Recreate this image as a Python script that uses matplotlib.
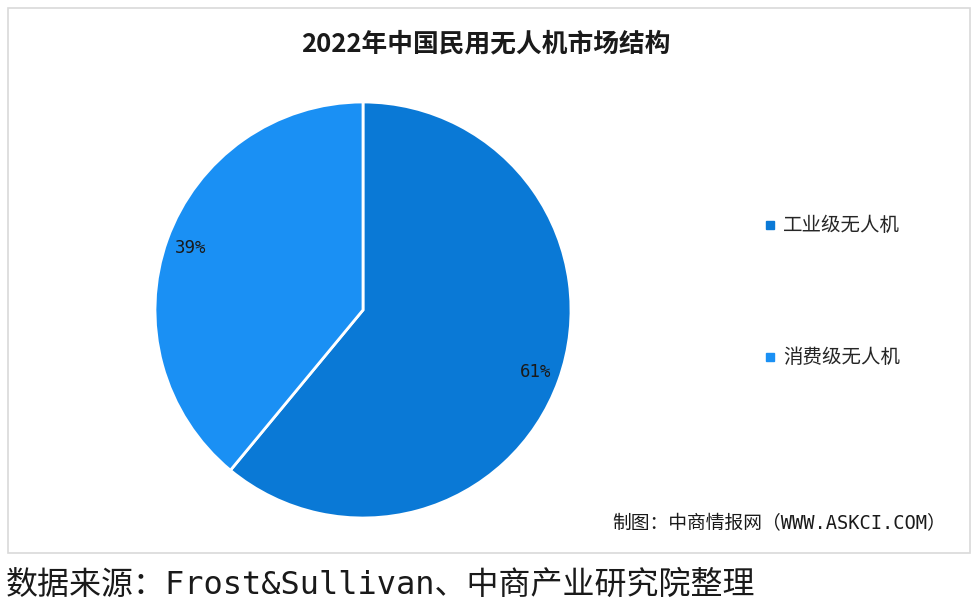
import matplotlib
matplotlib.use("Agg")
import matplotlib.pyplot as plt
from matplotlib.patches import Rectangle

plt.rcParams['font.family'] = ['Noto Sans CJK SC', 'DejaVu Sans']

# data
labels = ['工业级无人机', '消费级无人机']
shares = [61, 39]
colors = ['#0a79d6', '#1a90f4']

title = '2022年中国民用无人机市场结构'
credit = '制图：中商情报网（WWW.ASKCI.COM）'
source = '数据来源：Frost&Sullivan、中商产业研究院整理'

W, H = 978, 610
fig = plt.figure(figsize=(W / 100, H / 100), dpi=100)

# outer frame of the chart
fig.patches.append(Rectangle((8 / W, 1 - 553 / H), 962 / W, 545 / H,
                             transform=fig.transFigure, fill=False,
                             edgecolor='#d9d9d9', linewidth=1.2))

# pie: centre (363, 310), radius 208 px
r = 208
ax = fig.add_axes([(363 - r) / W, 1 - (310 + r) / H, 2 * r / W, 2 * r / H])
wedges, texts, autotexts = ax.pie(
    shares, colors=colors, startangle=90, counterclock=False,
    autopct='%d%%', pctdistance=0.88,
    wedgeprops=dict(edgecolor='white', linewidth=2))
for t in autotexts:
    t.set_fontsize(12.5)
    t.set_color('#1a1a1a')
    t.set_family(['DejaVu Sans Mono'])
ax.set_xlim(-1, 1)
ax.set_ylim(-1, 1)
ax.set_aspect('equal')

fig.text(486 / W, 1 - 44 / H, title, ha='center', va='center',
         fontsize=18.5, fontweight='bold', color='#1a1a1a')

# legend
leg_y = [225, 357]
for lab, col, y in zip(labels, colors, leg_y):
    fig.patches.append(Rectangle((766 / W, 1 - (y + 4) / H), 8 / W, 8 / H,
                                 transform=fig.transFigure, color=col))
    fig.text(783 / W, 1 - y / H, lab, ha='left', va='center',
             fontsize=14, color='#262626')

fig.text(612 / W, 1 - 524 / H, credit, ha='left', va='center',
         fontsize=13.5, color='#1a1a1a',
         family=['DejaVu Sans Mono', 'Noto Sans CJK SC'])

fig.text(6 / W, 1 - 585 / H, source, ha='left', va='center',
         fontsize=23, color='#1a1a1a',
         family=['DejaVu Sans Mono', 'Noto Sans CJK SC'])

fig.savefig('out.png', dpi=100)
